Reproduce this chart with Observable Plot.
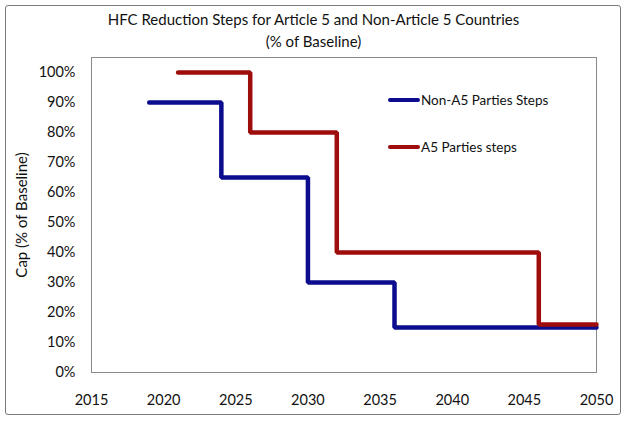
<!DOCTYPE html>
<html>
<head>
<meta charset="utf-8">
<script src="https://cdn.jsdelivr.net/npm/d3@7"></script>
<script src="https://cdn.jsdelivr.net/npm/@observablehq/plot@0.6"></script>
<style>
  body { margin: 0; background: #fff; font-family: Lato, "Open Sans", sans-serif; }
  #wrap { position: relative; width: 627px; height: 422px; overflow: hidden; background: #fff; }
  #border { position: absolute; left: 5px; top: 5px; width: 614px; height: 408px; border: 1.5px solid #7a7a7a; border-radius: 3px; }
  #title { position: absolute; left: 0; top: 8px; width: 627px; text-align: center; font-size: 15px; line-height: 22px; color: #111; }
  #chart { position: absolute; left: 0; top: 50px; }
  .legend { position: absolute; font-size: 13.5px; color: #111; display: flex; align-items: center; white-space: nowrap; }
  .legend span.sw { display: inline-block; width: 32px; height: 4px; border-radius: 2px; margin-right: 1px; }
</style>
</head>
<body>
<div id="wrap">
  <div id="border"></div>
  <div id="title">HFC Reduction Steps for Article 5 and Non-Article 5 Countries<br>(% of Baseline)</div>
  <div id="chart"></div>
  <div id="legend"></div>
</div>
<script>
// Data
const nonA5Years = [2019, 2024, 2030, 2036, 2050];
const nonA5Caps  = [0.90, 0.65, 0.30, 0.15, 0.15];
const a5Years    = [2021, 2026, 2032, 2046, 2050];
const a5Caps     = [1.00, 0.80, 0.40, 0.16, 0.16];
const seriesNames = ["Non-A5 Parties Steps", "A5 Parties steps"];
const seriesColors = ["#0c0c8e", "#9e0c0c"];
const xTicks = [2015, 2020, 2025, 2030, 2035, 2040, 2045, 2050];
const yTicks = [0, 0.1, 0.2, 0.3, 0.4, 0.5, 0.6, 0.7, 0.8, 0.9, 1.0];

const rows = [
  ...nonA5Years.map((y, i) => ({series: seriesNames[0], year: y, cap: nonA5Caps[i]})),
  ...a5Years.map((y, i) => ({series: seriesNames[1], year: y, cap: a5Caps[i]}))
];

const chart = Plot.plot({
  width: 627,
  height: 365,
  marginLeft: 91,
  marginRight: 31,
  marginTop: 7,
  marginBottom: 43,
  style: {fontFamily: "Lato, 'Open Sans', sans-serif", fontSize: "14px", color: "#111", background: "transparent"},
  x: {domain: [2015, 2050], ticks: xTicks, tickFormat: d => String(d), tickSize: 0, tickPadding: 22, label: null},
  y: {domain: [0, 1.05], ticks: yTicks, tickFormat: d => Math.round(d * 100) + "%", tickSize: 0, tickPadding: 16, label: null},
  color: {domain: seriesNames, range: seriesColors},
  marks: [
    Plot.frame({stroke: "#8a8a8a", strokeWidth: 1}),
    Plot.line(rows, {x: "year", y: "cap", z: "series", stroke: "series", curve: "step-after", strokeWidth: 4.5, strokeLinecap: "round", strokeLinejoin: "miter"}),
    Plot.axisX({ticks: xTicks, tickFormat: d => String(d), tickSize: 0, tickPadding: 22, label: null, fontSize: 14.5}),
    Plot.axisY({ticks: yTicks, tickFormat: d => Math.round(d * 100) + "%", tickSize: 0, tickPadding: 16, label: null, fontSize: 14.5}),
    Plot.text(["Cap (% of Baseline)"], {frameAnchor: "left", textAnchor: "middle", dx: -69, rotate: -90, fontSize: 15, fill: "#111"})
  ]
});
document.getElementById("chart").appendChild(chart);

// Legend (overlay within plot area)
const legendPos = [{left: 388, top: 92}, {left: 388, top: 139}];
const lg = document.getElementById("legend");
seriesNames.forEach((name, i) => {
  const d = document.createElement("div");
  d.className = "legend";
  d.style.left = legendPos[i].left + "px";
  d.style.top = legendPos[i].top + "px";
  d.innerHTML = `<span class="sw" style="background:${seriesColors[i]}"></span>${name}`;
  lg.appendChild(d);
});
</script>
</body>
</html>
